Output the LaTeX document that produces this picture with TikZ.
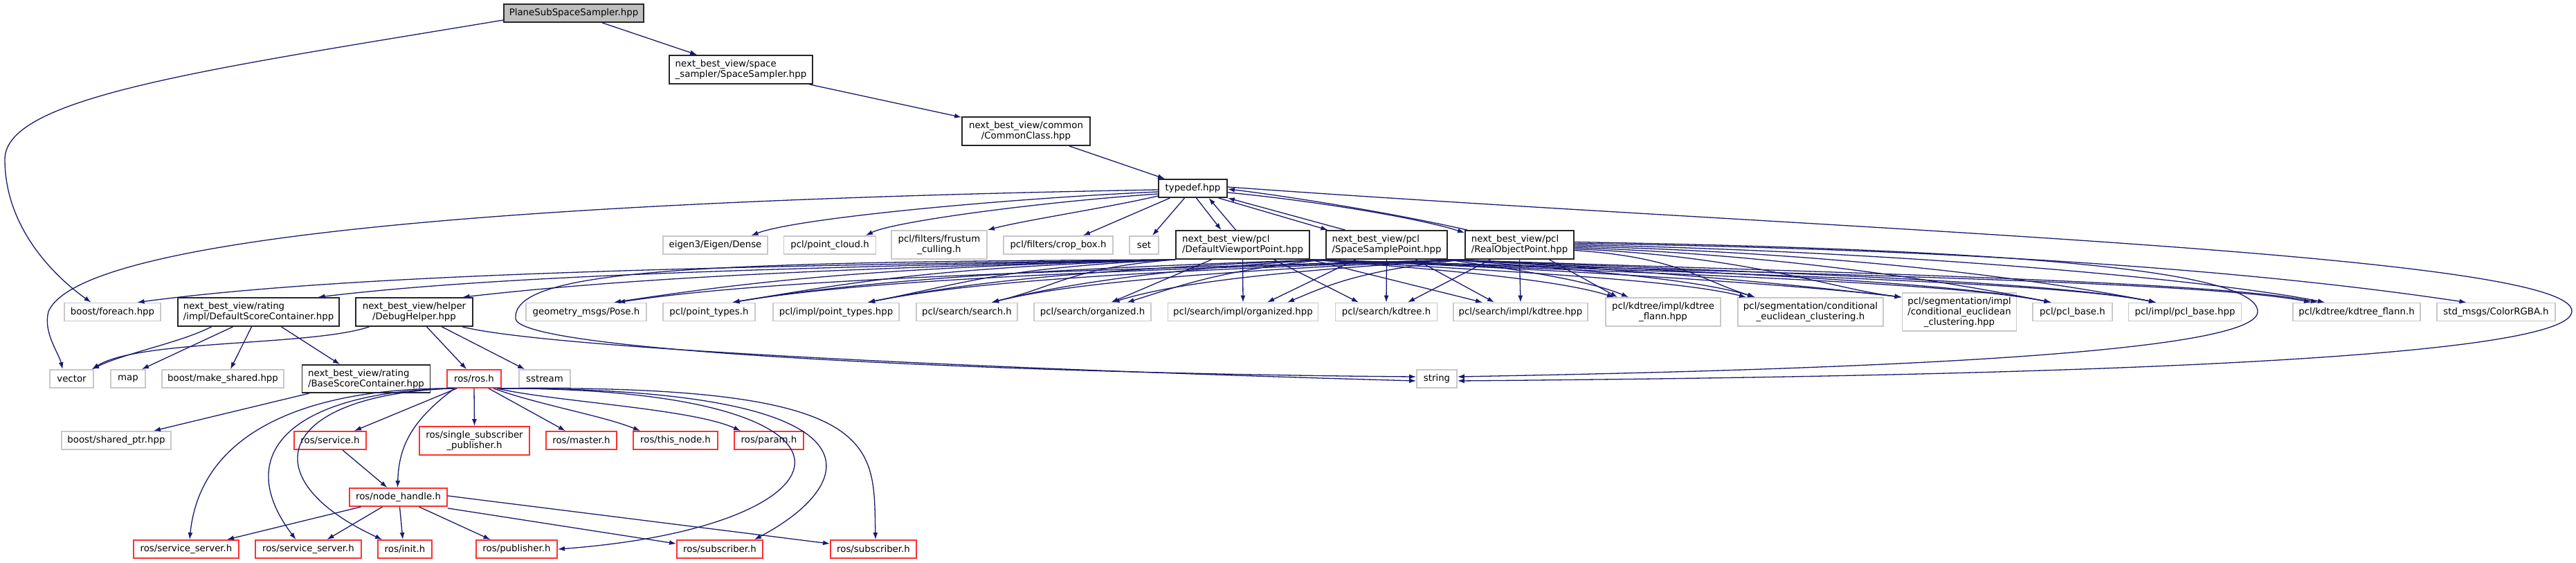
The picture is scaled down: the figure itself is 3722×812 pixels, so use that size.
\documentclass[tikz,border=0pt]{standalone}
\usepackage{fontspec}
\setmainfont{DejaVu Sans}
\usetikzlibrary{arrows.meta}
\definecolor{edgeblue}{HTML}{191970}
\definecolor{extgray}{HTML}{C8C8C8}
\definecolor{rosred}{HTML}{FF3030}
\definecolor{rootgray}{HTML}{BFBFBF}
\newcommand\gfont{\fontsize{13.33pt}{15pt}\selectfont}
\tikzset{
  basenode/.style={rectangle, inner sep=0pt, minimum height=26pt, font=\gfont, text=black, line width=1.8pt},
  intnode/.style={basenode, draw=black!85},
  extnode/.style={basenode, draw=extgray},
  rosnode/.style={basenode, draw=rosred},
  dep/.style={draw=edgeblue, line width=1.3pt, -{Latex[length=10pt,width=7pt]}},
}
\begin{document}
\begin{tikzpicture}[x=1pt,y=-1pt]
\useasboundingbox (0,0) rectangle (3722,812);
\fill[white] (0,0) rectangle (3722,812);

% ---- nodes ----
\node[intnode, fill=rootgray, minimum width=202pt] (root) at (829,19) {PlaneSubSpaceSampler.hpp};
\node[intnode, minimum width=207pt, minimum height=41pt, align=left] (ssampler) at (1070.5,100.5) {next\_best\_view/space\\\_sampler/SpaceSampler.hpp};
\node[intnode, minimum width=185pt, minimum height=41pt, align=center] (common) at (1482.5,189.5) {next\_best\_view/common\\/CommonClass.hpp};
\node[intnode, minimum width=99pt] (typedef) at (1723.5,272) {typedef.hpp};

\node[extnode, minimum width=151pt] (eigen) at (1033.5,354) {eigen3/Eigen/Dense};
\node[extnode, minimum width=133pt] (pcloud) at (1199,354) {pcl/point\_cloud.h};
\node[extnode, minimum width=138pt, minimum height=41pt, align=center] (frustum) at (1357,353.5) {pcl/filters/frustum\\\_culling.h};
\node[extnode, minimum width=158pt] (cropbox) at (1529,354) {pcl/filters/crop\_box.h};
\node[extnode, minimum width=42pt] (set) at (1653,354) {set};
\node[intnode, minimum width=193pt, minimum height=41pt, align=left] (dvp) at (1795.5,353.5) {next\_best\_view/pcl\\/DefaultViewportPoint.hpp};
\node[intnode, minimum width=175pt, minimum height=41pt, align=left] (ssp) at (2003.5,353.5) {next\_best\_view/pcl\\/SpaceSamplePoint.hpp};
\node[intnode, minimum width=157pt, minimum height=41pt, align=left] (rop) at (2195.5,353.5) {next\_best\_view/pcl\\/RealObjectPoint.hpp};

\node[extnode, minimum width=139pt] (foreach) at (162.5,450.5) {boost/foreach.hpp};
\node[intnode, minimum width=233pt, minimum height=41pt, align=left] (dsc) at (373.5,450.5) {next\_best\_view/rating\\/impl/DefaultScoreContainer.hpp};
\node[intnode, minimum width=169pt, minimum height=41pt, align=center] (debug) at (598.5,450.5) {next\_best\_view/helper\\/DebugHelper.hpp};
\node[extnode, minimum width=174pt] (pose) at (847,450.5) {geometry\_msgs/Pose.h};
\node[extnode, minimum width=133pt] (ptypes) at (1024.5,450.5) {pcl/point\_types.h};
\node[extnode, minimum width=182pt] (iptypes) at (1208,450.5) {pcl/impl/point\_types.hpp};
\node[extnode, minimum width=146pt] (search) at (1397,450.5) {pcl/search/search.h};
\node[extnode, minimum width=169pt] (org) at (1578.5,450.5) {pcl/search/organized.h};
\node[extnode, minimum width=217pt] (iorg) at (1796,450.5) {pcl/search/impl/organized.hpp};
\node[extnode, minimum width=147pt] (kdt) at (2003,450.5) {pcl/search/kdtree.h};
\node[extnode, minimum width=194pt] (ikdt) at (2197,450.5) {pcl/search/impl/kdtree.hpp};
\node[extnode, minimum width=166pt, minimum height=41pt, align=center] (ikfl) at (2403,450.5) {pcl/kdtree/impl/kdtree\\\_flann.hpp};
\node[extnode, minimum width=210pt, minimum height=41pt, align=center] (cond) at (2616,450.5) {pcl/segmentation/conditional\\\_euclidean\_clustering.h};
\node[extnode, minimum width=165pt, minimum height=55pt, align=center] (icond) at (2831,450.5) {pcl/segmentation/impl\\/conditional\_euclidean\\\_clustering.hpp};
\node[extnode, minimum width=115pt] (pbase) at (2994.5,450.5) {pcl/pcl\_base.h};
\node[extnode, minimum width=163pt] (ipbase) at (3157,450.5) {pcl/impl/pcl\_base.hpp};
\node[extnode, minimum width=184pt] (kfl) at (3405,450.5) {pcl/kdtree/kdtree\_flann.h};
\node[extnode, minimum width=171pt] (color) at (3606.5,450.5) {std\_msgs/ColorRGBA.h};

\node[extnode, minimum width=63pt] (vector) at (103.5,547) {vector};
\node[extnode, minimum width=50pt] (map) at (185,547) {map};
\node[extnode, minimum width=176pt] (mkshared) at (322,547) {boost/make\_shared.hpp};
\node[intnode, minimum width=185pt, minimum height=40pt, align=left] (bsc) at (529,547) {next\_best\_view/rating\\/BaseScoreContainer.hpp};
\node[rosnode, minimum width=78pt] (rosh) at (685,547) {ros/ros.h};
\node[extnode, minimum width=74pt] (sstream) at (787,547) {sstream};
\node[extnode, minimum width=58pt] (string) at (2076,547) {string};

\node[extnode, minimum width=158pt] (shptr) at (168,636) {boost/shared\_ptr.hpp};
\node[rosnode, minimum width=104pt] (service) at (477,636) {ros/service.h};
\node[rosnode, minimum width=159pt, minimum height=41pt, align=center] (single) at (685.5,636.5) {ros/single\_subscriber\\\_publisher.h};
\node[rosnode, minimum width=102pt] (master) at (840,636) {ros/master.h};
\node[rosnode, minimum width=122pt] (thisnode) at (976,636) {ros/this\_node.h};
\node[rosnode, minimum width=100pt] (param) at (1111,636) {ros/param.h};

\node[rosnode, minimum width=141pt] (nh) at (575.5,718) {ros/node\_handle.h};

\node[rosnode, minimum width=152pt] (ssa) at (269,793) {ros/service\_server.h};
\node[rosnode, minimum width=153pt] (ssb) at (445.5,793) {ros/service\_server.h};
\node[rosnode, minimum width=78pt] (init) at (585,793) {ros/init.h};
\node[rosnode, minimum width=117pt] (pub) at (746.5,793) {ros/publisher.h};
\node[rosnode, minimum width=124pt] (suba) at (1040,793) {ros/subscriber.h};
\node[rosnode, minimum width=124pt] (subb) at (1262,793) {ros/subscriber.h};

% ---- top chain ----
\draw[dep] (root) -- (ssampler);
\draw[dep] (ssampler) -- (common);
\draw[dep] (common) -- (typedef);
\draw[dep] ([yshift=-10pt]root.west) .. controls (300,100) and (7,140) .. (7,230) .. controls (7,330) and (80,400) .. ([xshift=-31pt]foreach.north);

% ---- typedef ----
\draw[dep] ([yshift=-2pt]typedef.west) .. controls (900,288) and (120,330) .. (70,450) .. controls (62,480) and (85,510) .. ([xshift=-13pt]vector.north);
\draw[dep] ([yshift=-5pt]typedef.west) .. controls (1450,287) and (1150,315) .. ([xshift=52pt]eigen.north);
\draw[dep] ([yshift=-8pt]typedef.west) .. controls (1500,292) and (1290,320) .. ([xshift=52pt]pcloud.north);
\draw[dep] ([yshift=-11pt]typedef.west) .. controls (1600,300) and (1480,318) .. (frustum.north east);
\draw[dep] ([xshift=-33pt]typedef.south) -- ([xshift=36pt]cropbox.north);
\draw[dep] ([xshift=-12pt]typedef.south) -- ([xshift=12pt]set.north);
\draw[dep] ([xshift=5pt]typedef.south) -- ([xshift=-31pt]dvp.north);
\draw[dep] ([xshift=-10pt]dvp.north) -- ([xshift=23pt]typedef.south);
\draw[dep] ([xshift=37pt]typedef.south) -- ([xshift=-85pt]ssp.north);
\draw[dep] ([xshift=-60pt]ssp.north) -- (typedef.south east);
\draw[dep] ([yshift=-6pt]typedef.east) .. controls (1900,290) and (2050,315) .. ([yshift=-4pt]rop.north west);
\draw[dep] ([xshift=4pt]rop.north west) .. controls (2000,305) and (1850,282) .. ([yshift=-1pt]typedef.east);
\draw[dep] ([yshift=2pt]typedef.east) .. controls (2600,330) and (3722,365) .. (3716,450) .. controls (3710,530) and (2700,545) .. ([yshift=-3pt]string.east);

% ---- DefaultViewportPoint ----
\draw[dep] (dvp.south west) .. controls +(-700,10) and +(300,-40) .. ([xshift=36pt]foreach.north);
\draw[dep] (dvp.south west) .. controls +(-600,12) and +(250,-30) .. ([xshift=86pt]dsc.north);
\draw[dep] (dvp.south west) .. controls +(-550,14) and +(220,-25) .. ([xshift=70pt]debug.north);
\draw[dep] (dvp.south west) .. controls +(-450,12) and +(200,-30) .. ([xshift=40pt]pose.north);
\draw[dep] (dvp.south west) .. controls +(-350,12) and +(180,-30) .. ([xshift=34pt]ptypes.north);
\draw[dep] (dvp.south west) .. controls +(-250,12) and +(150,-30) .. ([xshift=46pt]iptypes.north);
\draw[dep] (dvp.south west) .. controls +(-150,12) and +(100,-25) .. ([xshift=36pt]search.north);
\draw[dep] ([xshift=-45pt]dvp.south) -- ([xshift=27pt]org.north);
\draw[dep] (dvp.south) -- (iorg.north);
\draw[dep] ([xshift=45pt]dvp.south) -- ([xshift=-40pt]kdt.north);
\draw[dep] (dvp.south east) -- ([xshift=-55pt]ikdt.north);
\draw[dep] (dvp.south east) .. controls +(200,15) and +(-80,-25) .. ([xshift=-71pt]ikfl.north);
\draw[dep] (dvp.south east) .. controls +(300,18) and +(-100,-25) .. ([xshift=-93pt]cond.north);
\draw[dep] (dvp.south east) .. controls +(400,15) and +(-120,-15) .. ([yshift=-7pt]icond.north west);
\draw[dep] (dvp.south east) .. controls +(500,20) and +(-150,-30) .. ([xshift=-31pt]pbase.north);
\draw[dep] (dvp.south east) .. controls +(600,20) and +(-150,-30) .. ([xshift=-42pt]ipbase.north);
\draw[dep] (dvp.south east) .. controls +(700,20) and +(-150,-30) .. ([xshift=-66pt]kfl.north);
\draw[dep] (dvp.south west) .. controls (1000,378) and (740,390) .. (745,460) .. controls (748,510) and (1500,540) .. ([yshift=3pt]string.west);

% ---- SpaceSamplePoint ----
\draw[dep] (ssp.south west) .. controls +(-450,15) and +(180,-30) .. ([xshift=34pt]ptypes.north);
\draw[dep] (ssp.south west) .. controls +(-350,15) and +(150,-30) .. ([xshift=46pt]iptypes.north);
\draw[dep] (ssp.south west) .. controls +(-250,15) and +(100,-25) .. ([xshift=36pt]search.north);
\draw[dep] (ssp.south west) .. controls +(-150,15) and +(80,-25) .. ([xshift=50pt]org.north);
\draw[dep] ([xshift=-45pt]ssp.south) -- ([xshift=35pt]iorg.north);
\draw[dep] (ssp.south) -- (kdt.north);
\draw[dep] ([xshift=42pt]ssp.south) -- ([xshift=-38pt]ikdt.north);
\draw[dep] (ssp.south east) .. controls +(100,15) and +(-60,-25) .. ([xshift=-50pt]ikfl.north);
\draw[dep] (ssp.south east) .. controls +(200,15) and +(-80,-25) .. ([xshift=-81pt]cond.north);
\draw[dep] (ssp.south east) .. controls +(300,15) and +(-100,-12) .. ([yshift=-7pt]icond.north west);
\draw[dep] (ssp.south east) .. controls +(400,20) and +(-150,-30) .. ([xshift=-31pt]pbase.north);
\draw[dep] (ssp.south east) .. controls +(500,20) and +(-150,-30) .. ([xshift=-42pt]ipbase.north);
\draw[dep] (ssp.south east) .. controls +(600,20) and +(-150,-30) .. ([xshift=-56pt]kfl.north);

% ---- RealObjectPoint ----
\draw[dep] (rop.south west) .. controls +(-700,18) and +(200,-30) .. ([xshift=46pt]pose.north);
\draw[dep] (rop.south west) .. controls +(-600,18) and +(180,-30) .. ([xshift=34pt]ptypes.north);
\draw[dep] (rop.south west) .. controls +(-500,18) and +(150,-30) .. ([xshift=46pt]iptypes.north);
\draw[dep] (rop.south west) .. controls +(-400,18) and +(100,-25) .. ([xshift=36pt]search.north);
\draw[dep] (rop.south west) .. controls +(-300,18) and +(80,-25) .. ([xshift=29pt]org.north);
\draw[dep] (rop.south west) .. controls +(-150,15) and +(60,-25) .. ([xshift=64pt]iorg.north);
\draw[dep] ([xshift=-42pt]rop.south) -- ([xshift=31pt]kdt.north);
\draw[dep] (rop.south) -- (ikdt.north);
\draw[dep] ([xshift=43pt]rop.south) -- ([xshift=-66pt]ikfl.north);
\draw[dep] ([yshift=-8pt]rop.east) .. controls +(150,10) and +(-80,-25) .. ([xshift=-80pt]cond.north);
\draw[dep] ([yshift=-6pt]rop.east) .. controls +(250,10) and +(-100,-12) .. ([yshift=-7pt]icond.north west);
\draw[dep] ([yshift=-4pt]rop.east) .. controls +(300,10) and +(-150,-30) .. ([xshift=-31pt]pbase.north);
\draw[dep] ([yshift=-2pt]rop.east) .. controls +(400,10) and +(-150,-30) .. ([xshift=-42pt]ipbase.north);
\draw[dep] (rop.east) .. controls +(500,10) and +(-150,-30) .. ([xshift=-46pt]kfl.north);
\draw[dep] ([yshift=2pt]rop.east) .. controls +(700,10) and +(-200,-30) .. ([xshift=-43pt]color.north);
\draw[dep] ([yshift=4pt]rop.east) .. controls (2900,360) and (3262,390) .. (3262,450) .. controls (3262,515) and (2600,535) .. ([yshift=3pt]string.east);

% ---- rating / helper ----
\draw[dep] ([xshift=-68pt]dsc.south) .. controls (260,495) and (180,510) .. ([xshift=-3pt]vector.north east);
\draw[dep] ([xshift=-37pt]dsc.south) -- ([xshift=20pt]map.north);
\draw[dep] ([xshift=-10pt]dsc.south) -- ([xshift=11pt]mkshared.north);
\draw[dep] ([xshift=33pt]dsc.south) -- ([xshift=-38pt]bsc.north);
\draw[dep] ([xshift=-65pt]debug.south) .. controls (450,500) and (200,490) .. ([xshift=-3pt]vector.north east);
\draw[dep] ([xshift=18pt]debug.south) -- ([xshift=-11pt]rosh.north);
\draw[dep] ([xshift=40pt]debug.south) -- ([xshift=-29pt]sstream.north);
\draw[dep] ([xshift=-16pt]debug.south east) .. controls (800,505) and (1500,535) .. ([yshift=-3pt]string.west);
\draw[dep] ([xshift=-82pt]bsc.south) -- ([xshift=54pt]shptr.north);

% ---- ros/ros.h ----
\draw[dep] ([xshift=-25pt]rosh.south) -- ([xshift=35pt]service.north);
\draw[dep] (rosh.south) -- (single.north);
\draw[dep] ([xshift=21pt]rosh.south) -- ([xshift=-23pt]master.north);
\draw[dep] ([xshift=28pt]rosh.south) .. controls (780,585) and (870,600) .. ([xshift=-51pt]thisnode.north);
\draw[dep] ([xshift=33pt]rosh.south) .. controls (800,580) and (1000,590) .. ([xshift=-41pt]param.north);
\draw[dep] ([xshift=-28pt]rosh.south) .. controls (590,610) and (576,650) .. ([xshift=-1pt]nh.north);
\draw[dep] ([xshift=-30pt]rosh.south) .. controls (450,560) and (290,620) .. ([xshift=5pt]ssa.north);
\draw[dep] ([xshift=-30pt]rosh.south) .. controls (430,565) and (330,650) .. ([xshift=-18pt]ssb.north);
\draw[dep] ([xshift=-30pt]rosh.south) .. controls (400,570) and (360,690) .. ([xshift=-33pt]init.north);
\draw[dep] ([xshift=35pt]rosh.south) .. controls (1300,560) and (1250,760) .. (pub.east);
\draw[dep] ([xshift=37pt]rosh.south) .. controls (1300,560) and (1240,700) .. ([xshift=50pt]suba.north);
\draw[dep] ([xshift=39pt]rosh.south) .. controls (1280,555) and (1262,640) .. ([xshift=3pt]subb.north);
\draw[dep] ([xshift=18pt]service.south) -- ([xshift=-16pt]nh.north);

% ---- ros/node_handle.h ----
\draw[dep] ([xshift=-54pt]nh.south) -- ([xshift=59pt]ssa.north);
\draw[dep] ([xshift=-23pt]nh.south) -- ([xshift=27pt]ssb.north);
\draw[dep] ([xshift=2pt]nh.south) -- ([xshift=-3pt]init.north);
\draw[dep] ([xshift=30pt]nh.south) -- ([xshift=-38pt]pub.north);
\draw[dep] ([yshift=-2pt]nh.south east) -- ([yshift=-6pt]suba.north west);
\draw[dep] ([yshift=2pt]nh.east) -- ([yshift=-6pt]subb.north west);
\end{tikzpicture}
\end{document}
